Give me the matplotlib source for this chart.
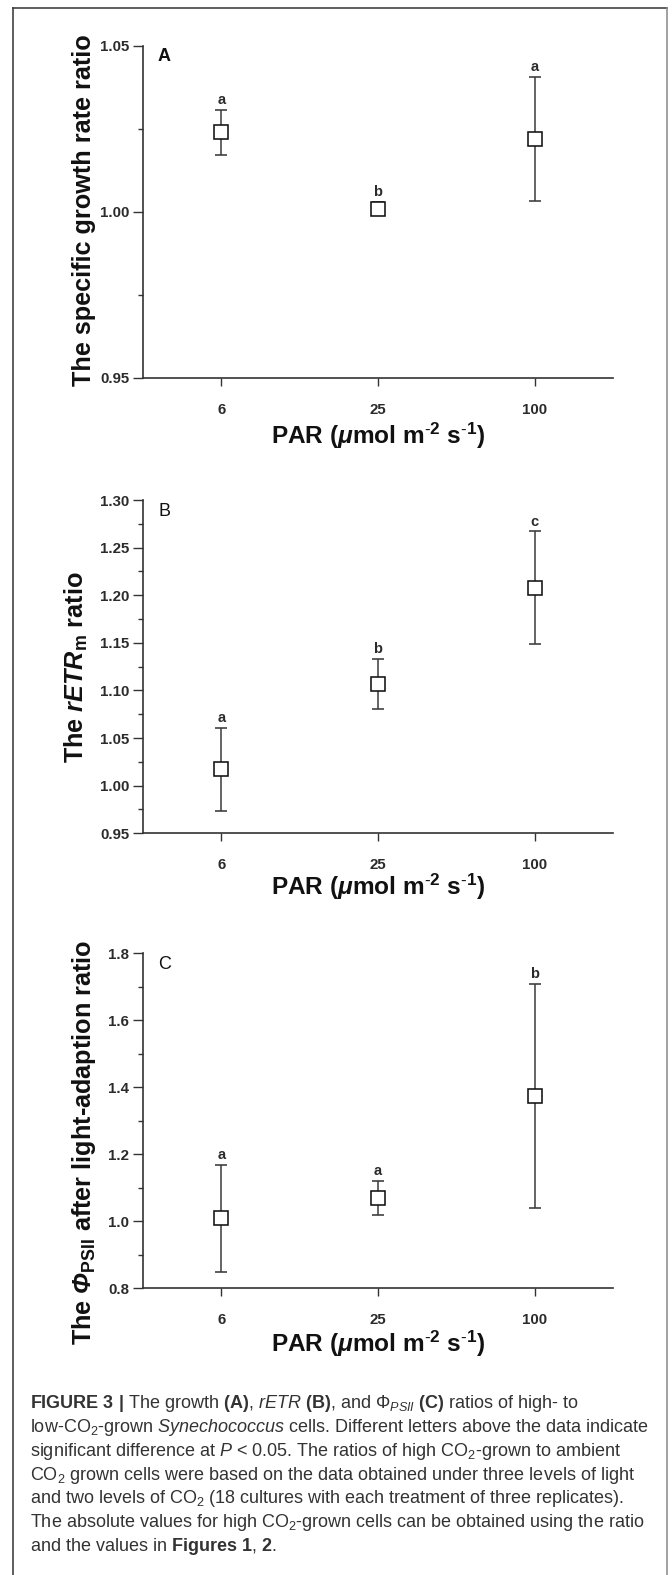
import matplotlib
matplotlib.use('Agg')
import matplotlib.pyplot as plt
from matplotlib.ticker import MultipleLocator, FormatStrFormatter
from matplotlib.lines import Line2D

plt.rcParams['font.family'] = ['Liberation Sans', 'DejaVu Sans']
plt.rcParams['mathtext.fontset'] = 'custom'
plt.rcParams['mathtext.rm'] = 'Liberation Sans'
plt.rcParams['mathtext.it'] = 'Liberation Sans:italic'
plt.rcParams['mathtext.bf'] = 'Liberation Sans:bold'
plt.rcParams['mathtext.bfit'] = 'Liberation Sans:italic:bold'

# ---------------- data ----------------
par_levels = ['6', '25', '100']

growth_ratio = [1.024, 1.001, 1.022]
growth_err = [0.0068, 0.002, 0.0187]
growth_letters = ['a', 'b', 'a']

retr_ratio = [1.017, 1.107, 1.208]
retr_err = [0.044, 0.026, 0.059]
retr_letters = ['a', 'b', 'c']

phi_ratio = [1.009, 1.070, 1.374]
phi_err = [0.160, 0.051, 0.335]
phi_letters = ['a', 'a', 'b']

panel_ids = ['A', 'B', 'C']
ylabels = ['The specific growth rate ratio',
           r'The $\mathbfit{rETR}_{\mathbf{m}}$ ratio',
           r'The $\mathbfit{\Phi}_{\mathbf{PSII}}$ after light-adaption ratio']
xlabel = r'PAR ($\mathbfit{\mu}$mol m$^{\mathbf{\text{-}2}}$ s$^{\mathbf{\text{-}1}}$)'

caption_lines = [
    r'$\mathbf{FIGURE\ 3\ |}$ The growth $\mathbf{(A)}$, $\mathit{rETR}$ $\mathbf{(B)}$, and $\Phi_{\mathit{PSII}}$ $\mathbf{(C)}$ ratios of high- to',
    r'low-CO$_2$-grown $\mathit{Synechococcus}$ cells. Different letters above the data indicate',
    r'significant difference at $\mathit{P}$ < 0.05. The ratios of high CO$_2$-grown to ambient',
    r'CO$_2$ grown cells were based on the data obtained under three levels of light',
    r'and two levels of CO$_2$ (18 cultures with each treatment of three replicates).',
    r'The absolute values for high CO$_2$-grown cells can be obtained using the ratio',
    r'and the values in $\mathbf{Figures\ 1}$, $\mathbf{2}$.',
]

# ---------------- layout (pixels) ----------------
W, H = 672, 1575
fig = plt.figure(figsize=(W / 100, H / 100), dpi=100)
fig.patch.set_facecolor('white')

def fx(px):
    return px / W

def fy(py):
    return 1 - py / H

ax_left, ax_right = 143, 613
panels = [
    dict(top=45.7, bottom=378.0, vals=growth_ratio, errs=growth_err, letters=growth_letters,
         ylim=(0.95, 1.05), major=0.05, minor=0.025, fmt='%.2f',
         ylab_x=91, ylab_y=210, xlab_y=444),
    dict(top=500.0, bottom=833.3, vals=retr_ratio, errs=retr_err, letters=retr_letters,
         ylim=(0.95, 1.30), major=0.05, minor=0.025, fmt='%.2f',
         ylab_x=84, ylab_y=667, xlab_y=895),
    dict(top=953.3, bottom=1288.3, vals=phi_ratio, errs=phi_err, letters=phi_letters,
         ylim=(0.8, 1.8), major=0.2, minor=0.1, fmt='%.1f',
         ylab_x=91, ylab_y=1142, xlab_y=1352),
]

ink = '#2b2b2b'
xpos = [1, 2, 3]
for i, p in enumerate(panels):
    ax = fig.add_axes([fx(ax_left), fy(p['bottom']), (ax_right - ax_left) / W,
                       (p['bottom'] - p['top']) / H])
    ax.errorbar(xpos, p['vals'], yerr=p['errs'], fmt='s', ms=10.5, mfc='white',
                mec='#111111', mew=1.15, ecolor='#3a3a3a', elinewidth=1.1,
                capsize=4, capthick=1.1)
    for x, v, e, l in zip(xpos, p['vals'], p['errs'], p['letters']):
        ax.annotate(l, (x, v + e), xytext=(0, 2), textcoords='offset points',
                    ha='center', va='bottom', fontsize=10.5, fontweight='bold',
                    color=ink)
    ax.set_xlim(0.5, 3.5)
    ax.set_ylim(*p['ylim'])
    ax.set_xticks(xpos)
    ax.set_xticklabels(par_levels)
    ax.yaxis.set_major_locator(MultipleLocator(p['major']))
    ax.yaxis.set_minor_locator(MultipleLocator(p['minor']))
    ax.yaxis.set_major_formatter(FormatStrFormatter(p['fmt']))
    for s in ['top', 'right']:
        ax.spines[s].set_visible(False)
    for s in ['left', 'bottom']:
        ax.spines[s].set_color('#333333')
        ax.spines[s].set_linewidth(1.2)
    ax.tick_params(axis='y', which='major', direction='out', length=7, width=1.0,
                   color='#333333', pad=3, labelsize=10.8)
    ax.tick_params(axis='y', which='minor', direction='out', length=3.5, width=1.0,
                   color='#333333')
    ax.tick_params(axis='x', which='major', direction='out', length=6, width=1.0,
                   color='#333333', pad=12, labelsize=10.8)
    for t in ax.get_xticklabels() + ax.get_yticklabels():
        t.set_fontweight('bold')
        t.set_color(ink)
    ax.text(0.045, 1 - 11.3 / (p['bottom'] - p['top']), panel_ids[i],
            transform=ax.transAxes, ha='center', va='center', fontsize=13,
            fontweight='bold' if i == 0 else 'normal', color='#111111')
    fig.text(fx(p['ylab_x']), fy(p['ylab_y']), ylabels[i], rotation=90,
             rotation_mode='anchor', ha='center', va='baseline', fontsize=18.2,
             fontweight='bold', color='#111111')
    fig.text(fx(378), fy(p['xlab_y']), xlabel, ha='center', va='baseline',
             fontsize=17.6, fontweight='bold', color='#111111')

# caption
for k, line in enumerate(caption_lines):
    fig.text(fx(30), fy(1404 + k * 23.7), line, ha='left', va='center',
             fontsize=13.0, color='#333333')

# frame
fig.add_artist(Line2D([fx(13), fx(13)], [fy(8), 0], transform=fig.transFigure,
                      color='#333333', lw=1.1))
fig.add_artist(Line2D([fx(13), fx(667)], [fy(8), fy(8)], transform=fig.transFigure,
                      color='#333333', lw=1.1))
fig.add_artist(Line2D([fx(667), fx(667)], [fy(8), 0], transform=fig.transFigure,
                      color='#888888', lw=1.1))

fig.savefig('out.png', dpi=100)
